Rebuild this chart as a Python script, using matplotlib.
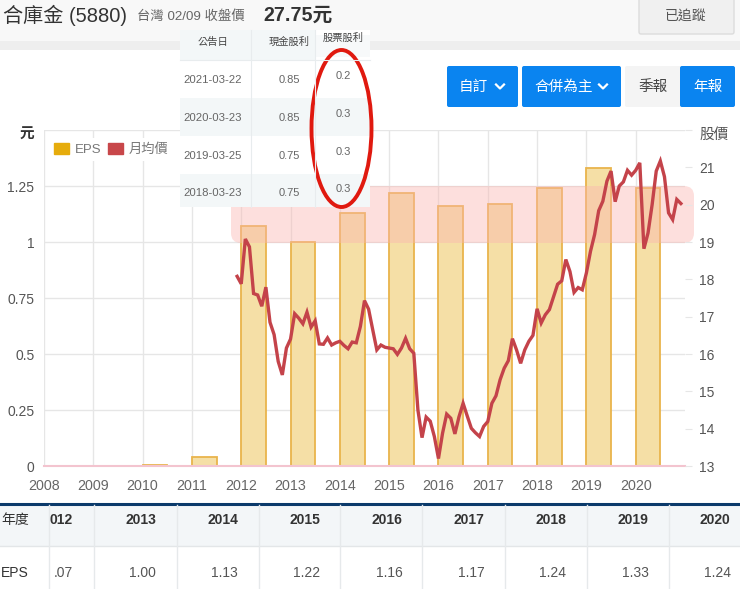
import numpy as np
import matplotlib
matplotlib.use("Agg")
import matplotlib.pyplot as plt
from matplotlib.patches import Rectangle, FancyBboxPatch, Ellipse

plt.rcParams['font.family'] = ['Liberation Sans', 'Noto Sans CJK TC', 'DejaVu Sans']

years = list(range(2008, 2021))
eps = [0, 0, 0.005, 0.04, 1.07, 1.00, 1.13, 1.22, 1.16, 1.17, 1.24, 1.33, 1.24]

# monthly average price, first point is Dec 2011
price_start = 2012 - 1 / 12
price = [
    18.08, 17.88, 19.08, 18.87, 17.62, 17.58, 17.28, 17.79, 16.85, 16.52, 15.80, 15.44,
    16.16, 16.40, 17.08, 16.96, 16.81, 17.12, 16.72, 16.89, 16.27, 16.26, 16.43, 16.24,
    16.30, 16.34, 16.23, 16.14, 16.32, 16.30, 16.74, 17.43, 17.20, 16.65, 16.11, 16.24,
    16.18, 16.16, 16.14, 15.99, 16.16, 16.42, 16.14, 16.02, 14.50, 13.76, 14.31, 14.20,
    13.79, 13.20, 13.88, 14.39, 14.28, 13.86, 14.32, 14.68, 14.34, 14.01, 13.89, 13.79,
    14.06, 14.19, 14.68, 14.88, 15.31, 15.62, 15.82, 16.41, 16.11, 15.75, 16.11, 16.34,
    16.50, 17.21, 16.83, 17.05, 17.19, 17.53, 17.87, 17.96, 18.53, 18.21, 17.65, 17.78,
    17.72, 18.17, 18.75, 19.20, 19.84, 20.09, 20.63, 20.90, 20.08, 20.50, 20.61, 20.92,
    20.79, 20.92, 21.12, 18.82, 19.24, 20.00, 20.90, 21.17, 20.75, 19.78, 19.60, 20.14,
    20.03,
]

left_ticks = [0, 0.25, 0.5, 0.75, 1, 1.25, 1.5]
left_labels = ['0', '0.25', '0.5', '0.75', '1', '1.25', '']
right_ticks = list(range(13, 23))
right_labels = ['13', '14', '15', '16', '17', '18', '19', '20', '21', '']

dividend_dates = ['2021-03-22', '2020-03-23', '2019-03-25', '2018-03-23']
cash_div = ['0.85', '0.85', '0.75', '0.75']
stock_div = ['0.2', '0.3', '0.3', '0.3']

table_years = ['2013', '2014', '2015', '2016', '2017', '2018', '2019', '2020']
table_eps = ['1.00', '1.13', '1.22', '1.16', '1.17', '1.24', '1.33', '1.24']

W, H = 740, 589
fig = plt.figure(figsize=(W / 100, H / 100), dpi=100, facecolor='white')

# page overlay in pixel coordinates
ui = fig.add_axes([0, 0, 1, 1], zorder=3)
ui.set_xlim(0, W)
ui.set_ylim(H, 0)
ui.axis('off')
ui.patch.set_visible(False)

ax = fig.add_axes([44 / W, 1 - 466 / H, 641 / W, 336 / H], zorder=1)
ax2 = ax.twinx()
ax2.set_zorder(2)
ax2.patch.set_visible(False)

# chart
ax.bar(years, eps, width=0.5, align='edge', color='#f5dfa6', edgecolor='#e9b44c', linewidth=1.3, zorder=2)
ax.set_xlim(2008, 2021)
ax.set_ylim(0, 1.5)
ax.set_xticks(years)
ax.set_xticklabels([str(y) for y in years], fontsize=10.3, color='#666666')
ax.set_yticks(left_ticks)
ax.set_yticklabels(left_labels, fontsize=10, color='#555555')
ax.tick_params(axis='both', length=0)
ax.tick_params(axis='x', pad=9)
ax.tick_params(axis='y', pad=7)
ax.grid(True, color='#e6e6e6', linewidth=1, zorder=0)
ax.set_axisbelow(True)
for s in ax.spines.values():
    s.set_visible(False)
ax.axhline(0, color='#f3c4cf', linewidth=1.5, zorder=3, clip_on=False)

# pink highlight band
ax.add_patch(FancyBboxPatch((231, 186), 463, 57, boxstyle='round,pad=0,rounding_size=10', transform=ui.transData,
                            mutation_scale=1, facecolor='#fbb5b0', edgecolor='none', alpha=0.42,
                            clip_on=False, zorder=4))

months = price_start + np.arange(len(price)) / 12
ax2.plot(months, price, color='#c4434a', linewidth=2.4, solid_joinstyle='miter', zorder=5)
ax2.set_ylim(13, 22)
ax2.set_yticks(right_ticks)
ax2.set_yticklabels(right_labels, fontsize=10, color='#555555')
ax2.tick_params(axis='y', length=5, color='#e6e6e6', pad=5)
for s in ax2.spines.values():
    s.set_visible(False)

legend_handles = [Rectangle((0, 0), 1, 1, color='#e6ac0c'), Rectangle((0, 0), 1, 1, color='#c8474a')]
leg = ax.legend(legend_handles, ['EPS', '月均價'], loc='upper left', bbox_to_anchor=(5 / 641, 1 - 8 / 336), ncol=2,
                frameon=True, framealpha=1, facecolor='white', edgecolor='none', fontsize=9.5,
                handlelength=1.14, handleheight=0.85, handletextpad=0.45, columnspacing=0.45,
                borderpad=0.4, borderaxespad=0, labelcolor='#777777', fancybox=False)
leg.set_zorder(3)

ui.text(27, 135, '元', fontsize=10.5, color='#333333', weight='bold', ha='center', va='center')
ui.text(714, 135, '股價', fontsize=10.5, color='#555555', ha='center', va='center')

# top bar
ui.add_patch(Rectangle((0, 0), W, 41, facecolor='#f8f8f8', edgecolor='none'))
ui.add_patch(Rectangle((0, 41), W, 9, facecolor='#eeeeee', edgecolor='none'))
ui.text(3, 15, '合庫金 (5880)', fontsize=14.5, color='#333333', va='center')
ui.text(137, 17, '台灣 02/09 收盤價', fontsize=9.6, color='#666666', va='center')
ui.text(263, 15, '27.75元', fontsize=14.2, color='#333333', va='center', weight='bold')
ui.add_patch(FancyBboxPatch((639, -6), 95, 40, boxstyle='round,pad=0,rounding_size=2', facecolor='#f0f0f0',
                            edgecolor='#dcdcdc', linewidth=1))
ui.text(686, 16, '已追蹤', fontsize=10, color='#555555', ha='center', va='center')


def button(x0, x1, label, bg, fg, chevron=False, text_x=None):
    ui.add_patch(FancyBboxPatch((x0 + 2, 68), x1 - x0 - 4, 37, boxstyle='round,pad=2,rounding_size=2',
                                facecolor=bg, edgecolor='none'))
    ui.text(text_x if text_x else (x0 + x1) / 2, 87, label, fontsize=10.5, color=fg, ha='center', va='center')
    if chevron:
        cx = x1 - 18
        ui.plot([cx - 4, cx, cx + 4], [84.5, 88.5, 84.5], color=fg, linewidth=1.6)


button(447, 518, '自訂', '#0a84f0', 'white', True, 473)
button(522, 621, '合併為主', '#0a84f0', 'white', True, 564)
button(625, 682, '季報', '#f4f4f4', '#444444')
button(680, 735, '年報', '#0a84f0', 'white')

# dividend table
ui.add_patch(Rectangle((180, 30), 190, 177, facecolor='white', edgecolor='none'))
ui.add_patch(Rectangle((180, 30), 135, 30, facecolor='#f3f7f8', edgecolor='none'))
ui.add_patch(Rectangle((315, 35), 55, 22, facecolor='#f7f9fa', edgecolor='none'))
ui.add_patch(Rectangle((180, 98), 190, 38, facecolor='#f3f7f8', edgecolor='none'))
ui.add_patch(Rectangle((180, 174), 190, 33, facecolor='#f3f7f8', edgecolor='none'))
ui.plot([251, 251], [30, 207], color='#e8ecee', linewidth=0.8)
ui.plot([315, 315], [30, 207], color='#e8ecee', linewidth=0.8)
ui.plot([180, 370], [60, 60], color='#e8ecee', linewidth=0.8)
ui.text(213, 42, '公告日', fontsize=7.4, color='#444444', ha='center', va='center')
ui.text(289, 42, '現金股利', fontsize=7.4, color='#444444', ha='center', va='center')
ui.text(343, 38, '股票股利', fontsize=7.4, color='#444444', ha='center', va='center')
for i in range(len(dividend_dates)):
    y = 80 + i * 37.8
    ui.text(213, y, dividend_dates[i], fontsize=8.2, color='#666666', ha='center', va='center')
    ui.text(289, y, cash_div[i], fontsize=8, color='#666666', ha='center', va='center')
    ui.text(343, y - 4, stock_div[i], fontsize=8, color='#666666', ha='center', va='center')
ui.add_patch(Ellipse((341.5, 128.5), 60, 157, facecolor='none', edgecolor='#e0190f', linewidth=2.8))

# eps table
ui.add_patch(Rectangle((0, 505), W, 41, facecolor='#f3f6f8', edgecolor='none'))
ui.plot([0, W], [503.5, 503.5], color='#0b3a6b', linewidth=2.2)
ui.plot([0, W], [546, 546], color='#e3e6e8', linewidth=1)
for x in [49, 94, 177, 259, 340, 422, 505, 587, 669]:
    ui.plot([x, x], [505, H], color='#e6e9eb', linewidth=1)
ui.text(1, 520, '年度', fontsize=10, color='#333333', va='center')
ui.text(1, 573, 'EPS', fontsize=10, color='#333333', va='center')
ui.text(73, 520, '012', fontsize=10, color='#333333', va='center', ha='right', weight='bold')
ui.text(73, 573, '.07', fontsize=10, color='#555555', va='center', ha='right')
for i in range(len(table_years)):
    right = 156 + i * 82.1
    ui.text(right, 520, table_years[i], fontsize=10, color='#333333', va='center', ha='right', weight='bold')
    ui.text(right, 573, table_eps[i], fontsize=10, color='#555555', va='center', ha='right')

fig.savefig('out.png', dpi=100)
